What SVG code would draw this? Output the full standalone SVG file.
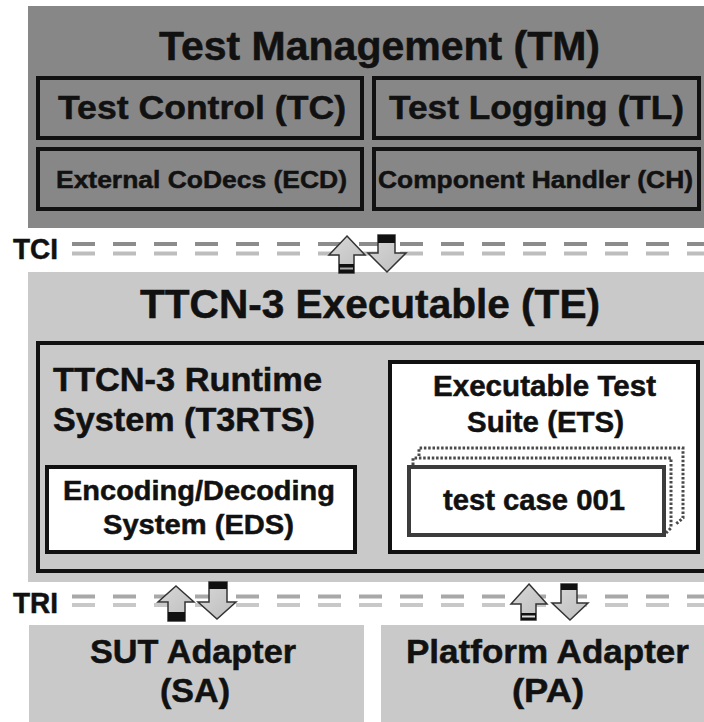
<svg xmlns="http://www.w3.org/2000/svg" width="704" height="722" viewBox="0 0 704 722">
<defs>
<style>
.t{font-family:"Liberation Sans",Arial,sans-serif;font-weight:bold;fill:#111;stroke:#111;stroke-width:0.5;}
.dark{fill:#878787;}
.light{fill:#c9c9c9;}
.box{stroke:#111;stroke-width:4;}
.white{fill:#fff;}
.arrow{fill:url(#ag);stroke:#333;stroke-width:1.5;stroke-linejoin:miter;}
.band{fill:#111;}
.dot{fill:none;stroke:#4a4a4a;stroke-width:3;stroke-dasharray:2.5 1.8;}
.dashT{stroke-width:4;stroke-dasharray:23 18;fill:none;}
</style>
<linearGradient id="ag" x1="0" y1="0" x2="1" y2="1">
<stop offset="0" stop-color="#d8d8d8"/>
<stop offset="1" stop-color="#bdbdbd"/>
</linearGradient>
</defs>
<rect width="704" height="722" fill="#fff"/>

<g id="TM">
<rect class="dark" x="28" y="6" width="680" height="222"/>
<text class="t" x="159" y="60" font-size="40" textLength="441" lengthAdjust="spacingAndGlyphs">Test Management (TM)</text>
</g>
<g id="TC">
<rect class="box dark" x="38" y="78" width="324" height="60"/>
<text class="t" x="58" y="119" font-size="33" textLength="288" lengthAdjust="spacingAndGlyphs">Test Control (TC)</text>
</g>
<g id="TL">
<rect class="box dark" x="374" y="78" width="325" height="60"/>
<text class="t" x="389" y="119" font-size="33" textLength="295" lengthAdjust="spacingAndGlyphs">Test Logging (TL)</text>
</g>
<g id="ECD">
<rect class="box dark" x="38" y="149" width="324" height="60"/>
<text class="t" x="56" y="188" font-size="24" textLength="291" lengthAdjust="spacingAndGlyphs">External CoDecs (ECD)</text>
</g>
<g id="CH">
<rect class="box dark" x="374" y="149" width="325" height="60"/>
<text class="t" x="378" y="188" font-size="24" textLength="315" lengthAdjust="spacingAndGlyphs">Component Handler (CH)</text>
</g>

<g id="TE">
<rect class="light" x="28" y="272" width="680" height="310"/>
<text class="t" x="140" y="318" font-size="40" textLength="460" lengthAdjust="spacingAndGlyphs">TTCN-3 Executable (TE)</text>
</g>
<g id="T3RTS">
<rect class="box light" x="38" y="343" width="680" height="228"/>
<text class="t" x="53" y="391" font-size="33" textLength="269" lengthAdjust="spacingAndGlyphs">TTCN-3 Runtime</text>
<text class="t" x="53" y="431" font-size="33" textLength="262" lengthAdjust="spacingAndGlyphs">System (T3RTS)</text>
</g>
<g id="EDS">
<rect class="box white" x="47" y="467" width="308" height="85"/>
<text class="t" x="63" y="500" font-size="28" textLength="272" lengthAdjust="spacingAndGlyphs">Encoding/Decoding</text>
<text class="t" x="103" y="534" font-size="28" textLength="191" lengthAdjust="spacingAndGlyphs">System (EDS)</text>
</g>
<g id="ETS">
<rect class="box white" x="390" y="362" width="308" height="190"/>
<text class="t" x="433" y="396" font-size="29" textLength="223" lengthAdjust="spacingAndGlyphs">Executable Test</text>
<text class="t" x="467" y="432" font-size="29" textLength="157" lengthAdjust="spacingAndGlyphs">Suite (ETS)</text>
<path class="dot" d="M419 456 L419 448 L683 448 L683 518 L676 524"/>
<path class="dot" d="M413 465 L413 458 L671 458 L671 528 L666 533"/>
</g>
<g id="TestCase">
<rect x="409" y="467" width="255" height="68" fill="#fff" stroke="#3c3c3c" stroke-width="4"/>
<text class="t" x="443" y="510" font-size="30" textLength="182" lengthAdjust="spacingAndGlyphs">test case 001</text>
</g>

<g id="SA">
<rect class="light" x="29" y="625" width="335" height="100"/>
<text class="t" x="90" y="663" font-size="34" textLength="206" lengthAdjust="spacingAndGlyphs">SUT Adapter</text>
<text class="t" x="160" y="702" font-size="34" textLength="70" lengthAdjust="spacingAndGlyphs">(SA)</text>
</g>
<g id="PA">
<rect class="light" x="381" y="625" width="330" height="100"/>
<text class="t" x="406" y="663" font-size="34" textLength="283" lengthAdjust="spacingAndGlyphs">Platform Adapter</text>
<text class="t" x="512" y="702" font-size="34" textLength="72" lengthAdjust="spacingAndGlyphs">(PA)</text>
</g>

<g id="connectors">
<g id="TCI">
<text class="t" x="13" y="259" font-size="29" textLength="45" lengthAdjust="spacingAndGlyphs">TCI</text>
<line class="dashT" x1="72" y1="244" x2="704" y2="244" stroke="#8c8c8c"/>
<line class="dashT" x1="72" y1="253.5" x2="704" y2="253.5" stroke="#bdbdbd"/>
<polygon class="arrow" points="347,236 365,255 354,255 354,273 339,273 339,255 329,255"/>
<rect class="band" x="339" y="264" width="15" height="9"/>
<rect x="340" y="267.5" width="13" height="2" fill="#aaa"/>
<polygon class="arrow" points="378,235 395,235 395,253 406,253 387,272 368,253 378,253"/>
<rect class="band" x="378" y="235" width="17" height="8"/>
</g>
<g id="TRI">
<text class="t" x="13" y="613" font-size="29" textLength="45" lengthAdjust="spacingAndGlyphs">TRI</text>
<line class="dashT" x1="72" y1="596.5" x2="704" y2="596.5" stroke="#a8a8a8"/>
<line class="dashT" x1="72" y1="605" x2="704" y2="605" stroke="#c8c8c8"/>
<polygon class="arrow" points="176,586 194,602 185,602 185,621 168,621 168,602 158,602"/>
<rect class="band" x="168" y="612" width="17" height="9"/>
<polygon class="arrow" points="209,582 227,582 227,602 236,602 217,619 198,602 209,602"/>
<rect class="band" x="209" y="582" width="18" height="7"/>
<polygon class="arrow" points="529,584 547,604 536,604 536,620 521,620 521,604 511,604"/>
<rect class="band" x="521" y="613" width="15" height="7"/>
<rect x="522" y="615.5" width="13" height="2" fill="#ddd"/>
<polygon class="arrow" points="561,584 577,584 577,603 588,603 570,620 552,603 561,603"/>
<rect class="band" x="561" y="584" width="16" height="6"/>
</g>
</g>
</svg>
